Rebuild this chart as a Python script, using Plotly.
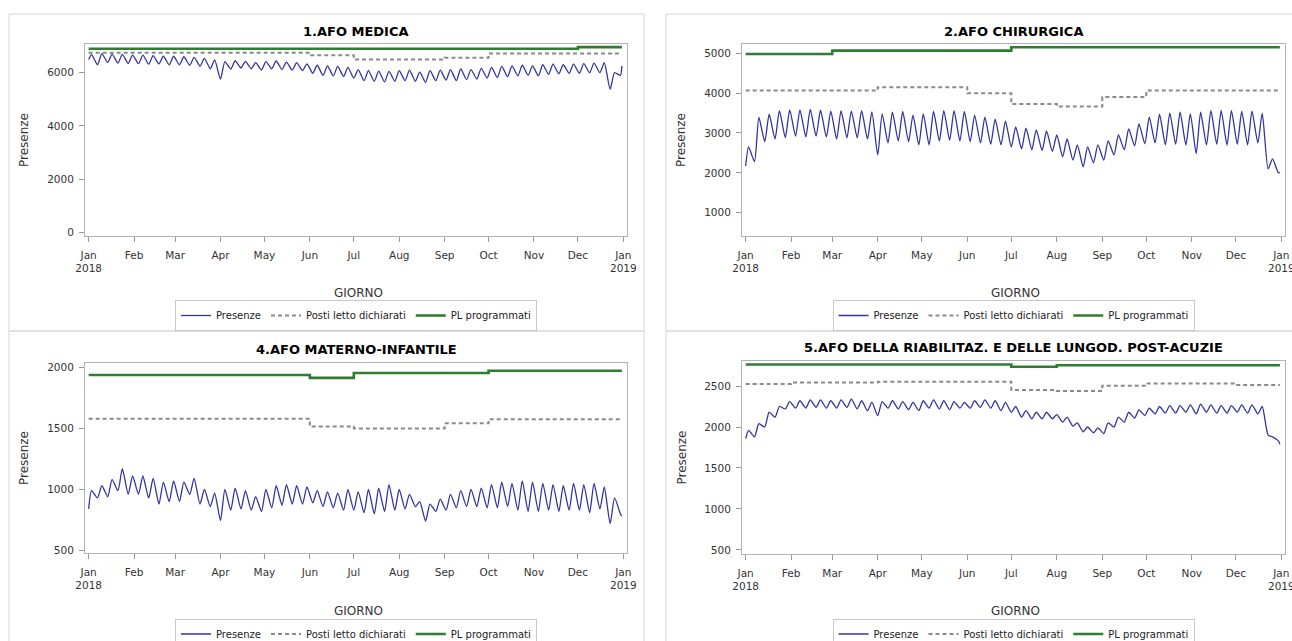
import pandas as pd
import plotly.graph_objects as go

W, H = 1292, 641

# ---------------- axis ticks ----------------
MONTH_STARTS = pd.date_range("2018-01-01", periods=13, freq="MS")
TICK_LABELS = ["Jan<br>2018", "Feb", "Mar", "Apr", "May", "Jun", "Jul", "Aug",
               "Sep", "Oct", "Nov", "Dec", "Jan<br>2019"]
STEP_DAYS = list(pd.date_range("2018-01-01", periods=12, freq="MS")) + [pd.Timestamp("2018-12-31")]

# weekly high (Wednesday) and low (Sunday) days of the daily series
PEAK_DAYS = pd.date_range("2018-01-03", periods=52, freq="7D")
TROUGH_DAYS = pd.date_range("2018-01-07", periods=52, freq="7D")
FIRST_DAY = pd.Timestamp("2018-01-01")
LAST_DAY = pd.Timestamp("2018-12-31")

SERIES_NAMES = ["Presenze", "Posti letto dichiarati", "PL programmati"]

# ---------------- 1.AFO MEDICA ----------------
medica_first, medica_last = 6500, 6250
medica_peaks = [6680, 6720, 6700, 6690, 6660,
                6660, 6640, 6620, 6620,
                6600, 6580, 6540, 6480,
                6420, 6450, 6430, 6380,
                6420, 6440, 6400, 6380, 6330,
                6280, 6260, 6240, 6200,
                6120, 6080, 6060, 6050,
                6080, 6100, 6020, 6080, 6100,
                6120, 6140, 6120, 6160,
                6200, 6240, 6260, 6280, 6260,
                6300, 6320, 6300, 6320,
                6340, 6360, 6380, 6000]
medica_troughs = [6300, 6380, 6360, 6350,
                  6340, 6320, 6330, 6300,
                  6300, 6280, 6250, 6150,
                  5760, 6140, 6180, 6150, 6100,
                  6150, 6120, 6100, 6080,
                  5980, 5900, 5880, 5860,
                  5800, 5700, 5680, 5660, 5680,
                  5700, 5680, 5640, 5700,
                  5720, 5700, 5740, 5760, 5800,
                  5820, 5850, 5880, 5900,
                  5880, 5940, 5960, 5980,
                  5980, 6000, 6000, 5380, 5900]
medica_posti = [6750, 6750, 6750, 6750, 6750, 6660, 6500, 6500, 6560, 6725, 6725, 6725]
medica_pl = [6900, 6900, 6900, 6900, 6900, 6900, 6900, 6900, 6900, 6900, 6900, 6962]

# ---------------- 2.AFO CHIRURGICA ----------------
chir_first, chir_last = 2171, 2010
chir_peaks = [2650, 3390, 3470, 3560, 3580,
              3580, 3590, 3570, 3550,
              3560, 3550, 3560, 3530,
              3480, 3520, 3540, 3450,
              3480, 3540, 3560, 3560, 3540,
              3450, 3400, 3350, 3300,
              3150, 3120, 3080, 3050,
              2950, 2850, 2700, 2650, 2700,
              2800, 2950, 3100, 3230,
              3400, 3470, 3500, 3520, 3480,
              3520, 3560, 3560, 3560,
              3540, 3550, 3500, 2350]
chir_troughs = [2280, 2780, 2850, 2880,
                2920, 2900, 2920, 2900,
                2850, 2880, 2880, 2850,
                2450, 2750, 2800, 2780, 2700,
                2700, 2800, 2820, 2800,
                2780, 2750, 2720, 2700,
                2650, 2600, 2580, 2560, 2540,
                2400, 2320, 2150, 2250,
                2320, 2450, 2580, 2680, 2730,
                2750, 2700, 2720, 2700,
                2480, 2700, 2720, 2700,
                2720, 2700, 2750, 2100, 2000]
chir_posti = [4065, 4065, 4065, 4150, 4150, 3995, 3725, 3662, 3900, 4065, 4065, 4065]
chir_pl = [4983, 4983, 5067, 5067, 5067, 5067, 5150, 5150, 5150, 5150, 5150, 5150]

# ---------------- 4.AFO MATERNO-INFANTILE ----------------
mat_first, mat_last = 841, 780
mat_peaks = [990, 1030, 1080, 1170, 1110,
             1110, 1090, 1060, 1070,
             1060, 1090, 1000, 970,
             1000, 1010, 990, 940,
             1000, 1030, 1040, 1030, 1020,
             990, 980, 970, 1000,
             980, 1000, 1010, 1040,
             1000, 960, 900, 880, 920,
             960, 990, 1000, 1010,
             1040, 1060, 1050, 1070, 1060,
             1050, 1040, 1030, 1050,
             1040, 1050, 1020, 930]
mat_troughs = [930, 940, 990, 960,
               960, 930, 880, 900,
               900, 960, 880, 860,
               745, 830, 840, 830, 820,
               850, 870, 880, 880,
               890, 860, 850, 830,
               830, 810, 800, 820, 830,
               840, 860, 740, 820,
               830, 850, 860, 860, 850,
               850, 860, 830, 820,
               820, 830, 820, 830,
               830, 810, 840, 720, 800]
mat_posti = [1580, 1580, 1580, 1580, 1580, 1515, 1500, 1500, 1542, 1575, 1575, 1575]
mat_pl = [1938, 1938, 1938, 1938, 1938, 1914, 1954, 1954, 1954, 1973, 1973, 1973]

# ---------------- 5.AFO RIABILITAZIONE ----------------
riab_first, riab_last = 1860, 1790
riab_peaks = [1960, 2040, 2180, 2250, 2310,
              2320, 2330, 2330, 2320,
              2330, 2340, 2320, 2300,
              2310, 2320, 2310, 2300,
              2320, 2330, 2320, 2310, 2300,
              2320, 2330, 2320, 2300,
              2250, 2200, 2180, 2180,
              2150, 2120, 2050, 2000, 1990,
              2050, 2120, 2180, 2210,
              2230, 2250, 2260, 2260, 2270,
              2280, 2270, 2260, 2260,
              2270, 2270, 2250, 1880]
riab_troughs = [1880, 2000, 2120, 2220,
                2230, 2230, 2240, 2230,
                2230, 2240, 2220, 2200,
                2140, 2230, 2220, 2210, 2200,
                2230, 2220, 2210, 2230,
                2230, 2240, 2230, 2200,
                2180, 2120, 2100, 2100, 2100,
                2060, 2010, 1940, 1930,
                1920, 2000, 2060, 2110, 2140,
                2160, 2170, 2170, 2180,
                2160, 2180, 2170, 2170,
                2180, 2170, 2160, 1900, 1830]
riab_posti = [2524, 2544, 2544, 2553, 2553, 2553, 2452, 2440, 2504, 2530, 2530, 2512]
riab_pl = [2762, 2762, 2762, 2762, 2762, 2762, 2734, 2754, 2754, 2754, 2754, 2754]

PANELS = [
    dict(title="1.AFO MEDICA", first=medica_first, last=medica_last, peaks=medica_peaks,
         troughs=medica_troughs, posti=medica_posti, pl=medica_pl,
         yrange=[-140, 7080], yticks=[0, 2000, 4000, 6000],
         box=(85, 627, 44, 236), leg_y=315.5, giorno_y=293),
    dict(title="2.AFO CHIRURGICA", first=chir_first, last=chir_last, peaks=chir_peaks,
         troughs=chir_troughs, posti=chir_posti, pl=chir_pl,
         yrange=[415, 5233], yticks=[1000, 2000, 3000, 4000, 5000],
         box=(742, 1285, 44, 236), leg_y=315.5, giorno_y=293),
    dict(title="4.AFO MATERNO-INFANTILE", first=mat_first, last=mat_last, peaks=mat_peaks,
         troughs=mat_troughs, posti=mat_posti, pl=mat_pl,
         yrange=[479, 2036], yticks=[500, 1000, 1500, 2000],
         box=(85, 627, 363, 553), leg_y=634, giorno_y=611),
    dict(title="5.AFO DELLA RIABILITAZ. E DELLE LUNGOD. POST-ACUZIE", first=riab_first,
         last=riab_last, peaks=riab_peaks, troughs=riab_troughs, posti=riab_posti, pl=riab_pl,
         yrange=[451, 2805], yticks=[500, 1000, 1500, 2000, 2500],
         box=(742, 1285, 361, 554), leg_y=634, giorno_y=611),
]

FONT = "DejaVu Sans"
BLUE = "#3434a0"
GREY = "#8a8a8a"
GREEN = "#2e7d32"


def px(x):
    return x / W


def py(y):
    return 1 - y / H


fig = go.Figure()
layout = dict(
    width=W, height=H,
    margin=dict(l=0, r=0, t=0, b=0, autoexpand=False),
    paper_bgcolor="white", plot_bgcolor="white",
    font=dict(family=FONT, size=10, color="#222"),
    showlegend=True,
    annotations=[], shapes=[],
)

# panel frames (light grey boxes)
frames = [(9, 644, 14, 331), (666, 1310, 14, 331), (9, 644, 331, 660), (666, 1310, 331, 660)]
for x0, x1, y0, y1 in frames:
    layout["shapes"].append(dict(type="rect", xref="paper", yref="paper",
                                 x0=px(x0), x1=px(x1), y0=py(y1), y1=py(y0),
                                 line=dict(color="#d6d6d6", width=1), layer="below"))

for i, p in enumerate(PANELS):
    n = i + 1
    sfx = "" if n == 1 else str(n)
    xa, ya = "x" + sfx, "y" + sfx
    leg = "legend" + sfx

    # build the daily-shape series from the weekly highs/lows
    xs = [FIRST_DAY]
    ys = [p["first"]]
    for k in range(52):
        xs += [PEAK_DAYS[k], TROUGH_DAYS[k]]
        ys += [p["peaks"][k], p["troughs"][k]]
    xs.append(LAST_DAY)
    ys.append(p["last"])

    fig.add_trace(go.Scatter(x=xs, y=ys, mode="lines", name=SERIES_NAMES[0],
                             line=dict(color=BLUE, width=1.3, shape="spline", smoothing=0.6),
                             xaxis=xa, yaxis=ya, legend=leg))
    fig.add_trace(go.Scatter(x=STEP_DAYS, y=p["posti"] + [p["posti"][-1]], mode="lines",
                             name=SERIES_NAMES[1],
                             line=dict(color=GREY, width=2, dash="4px,3px", shape="hv"),
                             xaxis=xa, yaxis=ya, legend=leg))
    fig.add_trace(go.Scatter(x=STEP_DAYS, y=p["pl"] + [p["pl"][-1]], mode="lines",
                             name=SERIES_NAMES[2],
                             line=dict(color=GREEN, width=2.6, shape="hv"),
                             xaxis=xa, yaxis=ya, legend=leg))

    x0, x1, y0, y1 = p["box"]
    cx = (x0 + x1) / 2
    axis_common = dict(showline=True, linecolor="#b3b3b3", linewidth=1, mirror=True,
                       showgrid=False, zeroline=False, ticks="outside", ticklen=5,
                       tickcolor="#9a9a9a", tickwidth=1, ticklabeloverflow="allow",
                       tickfont=dict(family=FONT, size=10.5, color="#333"))
    layout["xaxis" + sfx] = dict(axis_common, type="date", anchor=ya,
                                 domain=[px(x0), px(x1)],
                                 range=["2017-12-29 12:00", "2019-01-03 12:00"],
                                 tickmode="array", tickvals=list(MONTH_STARTS),
                                 ticktext=TICK_LABELS, ticklabelstandoff=4)
    layout["yaxis" + sfx] = dict(axis_common, anchor=xa, domain=[py(y1), py(y0)],
                                 range=p["yrange"], tickmode="array", tickvals=p["yticks"],
                                 ticklabelstandoff=3)

    # title
    layout["annotations"].append(dict(text=p["title"], xref="paper", yref="paper",
                                      x=px(cx), y=py(y0 - 13 if n <= 2 else y0 - 14),
                                      xanchor="center", yanchor="middle", showarrow=False,
                                      font=dict(family=FONT, size=13, color="black", weight="bold")))
    # axis titles
    layout["annotations"].append(dict(text="GIORNO", xref="paper", yref="paper",
                                      x=px(cx + 2), y=py(p["giorno_y"]), xanchor="center",
                                      yanchor="middle", showarrow=False,
                                      font=dict(family=FONT, size=12, color="#333")))
    layout["annotations"].append(dict(text="Presenze", xref="paper", yref="paper",
                                      x=px(x0 - 61), y=py((y0 + y1) / 2), xanchor="center",
                                      yanchor="middle", showarrow=False, textangle=-90,
                                      font=dict(family=FONT, size=12, color="#333")))

    layout[leg] = dict(x=px(cx), y=py(p["leg_y"]), xanchor="center", yanchor="middle",
                       orientation="h", bordercolor="#c8c8c8", borderwidth=1,
                       bgcolor="white", font=dict(family=FONT, size=10, color="#222"),
                       itemwidth=30, tracegroupgap=0)

fig.update_layout(**layout)
fig.write_html("out.html", config={"displayModeBar": False},
               post_script="document.body.style.margin='0';document.body.style.overflow='hidden';")
